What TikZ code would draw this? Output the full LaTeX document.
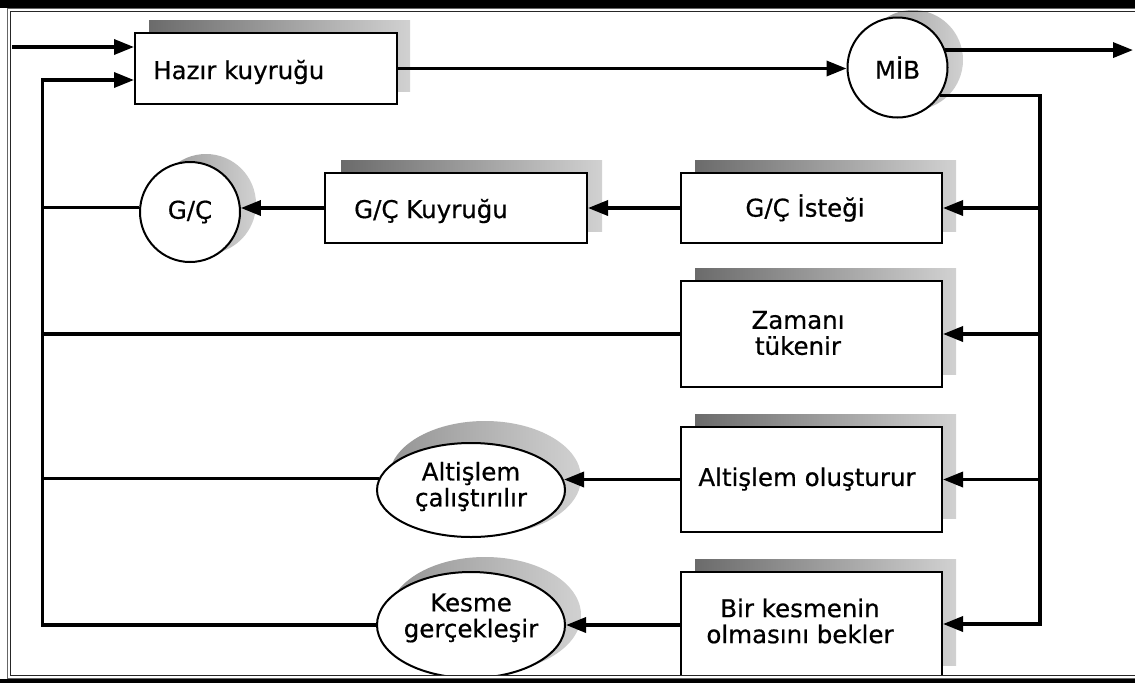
\documentclass[tikz,border=0pt]{standalone}
\usepackage{fontspec}
\setmainfont{DejaVu Sans}
\newfontfamily\lblfam[FakeBold=0.6]{DejaVu Sans}
\usetikzlibrary{arrows.meta,shapes.geometric}
\begin{document}
\begin{tikzpicture}[x=1pt,y=-1pt,
  conn/.style={line width=3.4pt,line join=miter},
  arr/.style={conn,-{Triangle[length=20pt,width=15pt]}},
  procbox/.style={draw=black,line width=2pt,fill=white,rectangle,inner sep=0pt},
  roundnode/.style={draw=black,line width=2pt,fill=white,circle,inner sep=0pt,minimum size=100pt},
  ovalnode/.style={draw=black,line width=2pt,fill=white,ellipse,inner sep=0pt,minimum width=188pt},
  boxshade/.style={left color=black!58,right color=black!18},
  roundshade/.style={left color=black!42,right color=black!18},
  lblfont/.style={font=\lblfam\fontsize{24.5}{26}\selectfont},
  lbl/.style={lblfont,align=center,inner sep=0pt},
]
\useasboundingbox (0,0) rectangle (1135,683);
\clip (0,0) rectangle (1135,683);
\fill[white] (0,0) rectangle (1135,683);

% shadows
\shade[boxshade] (149,20) rectangle (410,91);
\shade[roundshade] (913,60) circle[radius=50pt];
\shade[boxshade] (341,160) rectangle (602,231);
\shade[roundshade] (206,204) circle[radius=50pt];
\shade[boxshade] (695,160) rectangle (956,231);
\shade[boxshade] (695,268) rectangle (956,374);
\shade[boxshade] (695,414) rectangle (956,518);
\shade[boxshade] (695,559) rectangle (956,665);
\shade[roundshade] (485,478) ellipse[x radius=96pt,y radius=57pt];
\shade[roundshade] (485,615) ellipse[x radius=96pt,y radius=58pt];

% nodes
\node[procbox,minimum width=262pt,minimum height=71pt] (hazir) at (266,68.5) {};
\node[lbl,anchor=west] (thazir) at (153,72) {Hazır kuyruğu};
\node[roundnode,lblfont] (mib) at (897.5,67.5) {MİB};

\node[procbox,minimum width=261pt,minimum height=70pt] (istek) at (811.5,208) {};
\node[lbl] (tistek) at (805,208) {G/Ç İsteği};
\node[procbox,minimum width=262pt,minimum height=70pt] (kuyruk) at (456,208) {};
\node[lbl] (tkuyruk) at (431,211) {G/Ç Kuyruğu};
\node[roundnode,lblfont] (gc) at (190,212) {G/Ç};

\node[procbox,minimum width=261pt,minimum height=106pt] (zaman) at (811.5,334) {};
\node[lbl] (tzaman) at (798,333) {Zamanı\\tükenir};

\node[procbox,minimum width=261pt,minimum height=105pt] (olustur) at (811.5,479.5) {};
\node[lbl] (tolustur) at (807,479) {Altişlem oluşturur};

\node[procbox,minimum width=261pt,minimum height=106pt] (bekler) at (811.5,625) {};
\node[lbl] (tbekler) at (800,621) {Bir kesmenin\\olmasını bekler};

\node[ovalnode,minimum height=94pt] (altc) at (471,490) {};
\node[lbl] (taltc) at (471,486.5) {Altişlem\\çalıştırılır};
\node[ovalnode,minimum height=106pt] (kes) at (471,625) {};
\node[lbl] (tkes) at (471,618) {Kesme\\gerçekleşir};

% coordinates
\coordinate (start) at (12,47);
\coordinate (out) at (1133,50);
\coordinate (rbot) at (1040,624);
\coordinate (lb) at (42.5,80);

% connectors
\draw[arr] (start) -- (start -| hazir.west);
\draw[arr] (hazir.east) -- (hazir.east -| mib.west);
\draw[arr] (mib.20) -- (mib.20 -| out);
\draw[arr] (mib.-33) -- (mib.-33 -| rbot) -- (rbot) -- (rbot -| bekler.east);
\draw[arr] (istek.east -| rbot) -- (istek.east);
\draw[arr] (zaman.east -| rbot) -- (zaman.east);
\draw[arr] (olustur.east -| rbot) -- (olustur.east);
\draw[arr] (istek.west) -- (istek.west -| kuyruk.east);
\draw[arr] (kuyruk.west) -- (kuyruk.west -| gc.4.6);
\draw[arr] (olustur.west) -- (olustur.west -| altc.6.5);
\draw[arr] (bekler.west |- kes.east) -- (kes.east);
\draw[arr] (kes.west) -| (lb) -- (lb -| hazir.west);
\draw[conn] (gc.175.4) -- (gc.175.4 -| lb);
\draw[conn] (zaman.west) -- (zaman.west -| lb);
\draw[conn] (altc.173.5) -- (altc.173.5 -| lb);

% frame
\fill[white] (0,674.5) rectangle (1135,683);
\fill[black] (0,0) rectangle (1135,7.5);
\fill[black] (0,679) rectangle (1135,683);
\draw[black!60,line width=1pt] (1135,8.8) -- (7.5,8.8) -- (7.5,678) -- (1135,678);
\draw[black!85,line width=1pt] (1135,11.2) -- (10.5,11.2) -- (10.5,675.5) -- (1135,675.5);
\end{tikzpicture}
\end{document}
